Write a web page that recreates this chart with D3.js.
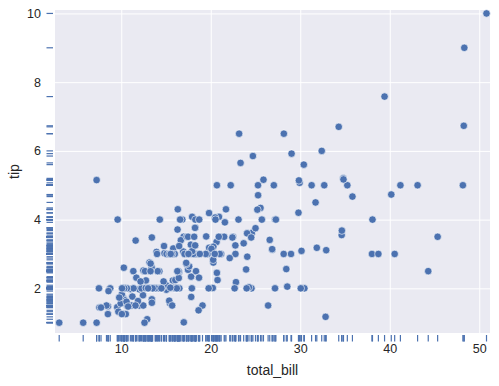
<!DOCTYPE html>
<html><head><meta charset="utf-8">
<script src="https://cdn.jsdelivr.net/npm/d3@7"></script>
<style>html,body{margin:0;padding:0;background:#fff;}svg{display:block;}</style>
</head><body>
<script>
const totalBill = [16.99,10.34,21.01,23.68,24.59,25.29,8.77,26.88,15.04,14.78,10.27,35.26,15.42,18.43,14.83,21.58,10.33,16.29,16.97,20.65,17.92,20.29,15.77,39.42,19.82,17.81,13.37,12.69,21.7,19.65,9.55,18.35,15.06,20.69,17.78,24.06,16.31,16.93,18.69,31.27,16.04,17.46,13.94,9.68,30.4,18.29,22.23,32.4,28.55,18.04,12.54,10.29,34.81,9.94,25.56,19.49,38.01,26.41,11.24,48.27,20.29,13.81,11.02,18.29,17.59,20.08,16.45,3.07,20.23,15.01,12.02,17.07,26.86,25.28,14.73,10.51,17.92,27.2,22.76,17.29,19.44,16.66,10.07,32.68,15.98,34.83,13.03,18.28,24.71,21.16,28.97,22.49,5.75,16.32,22.75,40.17,27.28,12.03,21.01,12.46,11.35,15.38,44.3,22.42,20.92,15.36,20.49,25.21,18.24,14.31,14.0,7.25,38.07,23.95,25.71,17.31,29.93,10.65,12.43,24.08,11.69,13.42,14.26,15.95,12.48,29.8,8.52,14.52,11.38,22.82,19.08,20.27,11.17,12.26,18.26,8.51,10.33,14.15,16.0,13.16,17.47,34.3,41.19,27.05,16.43,8.35,18.64,11.87,9.78,7.51,14.07,13.13,17.26,24.55,19.77,29.85,48.17,25.0,13.39,16.49,21.5,12.66,16.21,13.81,17.51,24.52,20.76,31.71,10.59,10.63,50.81,15.81,7.25,31.85,16.82,32.9,17.89,14.48,9.6,34.63,34.65,23.33,45.35,23.17,40.55,20.69,20.9,30.46,18.15,23.1,15.69,19.81,28.44,15.48,16.58,7.56,10.34,43.11,13.0,13.51,18.71,12.74,13.0,16.4,20.53,16.47,26.59,38.73,24.27,12.76,30.06,25.89,48.33,13.27,28.17,12.9,28.15,11.59,7.74,30.14,12.16,13.42,8.58,15.98,13.42,16.27,10.09,20.45,13.28,22.12,24.01,15.69,11.61,10.77,15.53,10.07,12.6,32.83,35.83,29.03,27.18,22.67,17.82,18.78];
const tip = [1.01,1.66,3.5,3.31,3.61,4.71,2.0,3.12,1.96,3.23,1.71,5.0,1.57,3.0,3.02,3.92,1.67,3.71,3.5,3.35,4.08,2.75,2.23,7.58,3.18,2.34,2.0,2.0,4.3,3.0,1.45,2.5,3.0,2.45,3.27,3.6,2.0,3.07,2.31,5.0,2.24,2.54,3.06,1.32,5.6,3.0,5.0,6.0,2.05,3.0,2.5,2.6,5.2,1.56,4.34,3.51,3.0,1.5,1.76,6.73,3.21,2.0,1.98,3.76,2.64,3.15,2.47,1.0,2.01,2.09,1.97,3.0,3.14,5.0,2.2,1.25,3.08,4.0,3.0,2.71,3.0,3.4,1.83,5.0,2.03,5.17,2.0,4.0,5.85,3.0,3.0,3.5,1.0,4.3,3.25,4.73,4.0,1.5,3.0,1.5,2.5,3.0,2.5,3.48,4.08,1.64,4.06,4.29,3.76,4.0,3.0,1.0,4.0,2.55,4.0,3.5,5.07,1.5,1.8,2.92,2.31,1.68,2.5,2.0,2.52,4.2,1.48,2.0,2.0,2.18,1.5,2.83,1.5,2.0,3.25,1.25,2.0,2.0,2.0,2.75,3.5,6.7,5.0,5.0,2.3,1.5,1.36,1.63,1.73,2.0,2.5,2.0,2.74,2.0,2.0,5.14,5.0,3.75,2.61,2.0,3.5,2.5,2.0,2.0,3.0,3.48,2.24,4.5,1.61,2.0,10.0,3.16,5.15,3.18,4.0,3.11,2.0,2.0,4.0,3.55,3.68,5.65,3.5,6.5,3.0,5.0,3.5,2.0,3.5,4.0,1.5,4.19,2.56,2.02,4.0,1.44,2.0,5.0,2.0,2.0,4.0,2.01,2.0,2.5,4.0,3.23,3.41,3.0,2.03,2.23,2.0,5.16,9.0,2.5,6.5,1.1,3.0,1.5,1.44,3.09,2.2,3.48,1.92,3.0,1.58,2.5,2.0,3.0,2.72,2.88,2.0,3.0,3.39,1.47,3.0,1.25,1.0,1.17,4.67,5.92,2.0,2.0,1.75,3.0];
const xTicks = [10, 20, 30, 40, 50];
const yTicks = [2, 4, 6, 8, 10];
const xLabel = "total_bill";
const yLabel = "tip";

const W = 499, H = 386;
const m = {left: 55, right: 9, top: 10, bottom: 53};
const pw = W - m.left - m.right, ph = H - m.top - m.bottom;
const blue = "#4c72b0";
const font = "'Liberation Sans', Arial, sans-serif";

const svg = d3.select("body").append("svg").attr("width", W).attr("height", H);
const x = d3.scaleLinear().domain([2.6, 51.2]).range([0, pw]);
const y = d3.scaleLinear().domain([0.7, 10.1]).range([ph, 0]);

const g = svg.append("g").attr("transform", `translate(${m.left},${m.top})`);
g.append("rect").attr("width", pw).attr("height", ph).attr("fill", "#eaeaf2");

const xAxis = d3.axisBottom(x).tickValues(xTicks).tickSize(ph).tickPadding(11);
const gx = g.append("g").call(xAxis);
gx.select(".domain").remove();
gx.selectAll(".tick line").attr("stroke", "#fff").attr("stroke-width", 1);
gx.selectAll(".tick text").attr("fill", "#262626").attr("font-size", 12.5).attr("font-family", font);

const yAxis = d3.axisLeft(y).tickValues(yTicks).tickSize(-pw).tickPadding(14);
const gy = g.append("g").call(yAxis);
gy.select(".domain").remove();
gy.selectAll(".tick line").attr("stroke", "#fff").attr("stroke-width", 1);
gy.selectAll(".tick text").attr("fill", "#262626").attr("font-size", 12.5).attr("font-family", font);

const data = totalBill.map((d, i) => ({x: d, y: tip[i]}));

// rugs (outside axes)
g.append("g").selectAll("line").data(data).join("line")
  .attr("x1", d => x(d.x)).attr("x2", d => x(d.x))
  .attr("y1", ph + 2).attr("y2", ph + 8.5)
  .attr("stroke", blue).attr("stroke-width", 1.2);
g.append("g").selectAll("line").data(data).join("line")
  .attr("y1", d => y(d.y)).attr("y2", d => y(d.y))
  .attr("x1", -2).attr("x2", -8.5)
  .attr("stroke", blue).attr("stroke-width", 1.2);

// points
g.append("g").selectAll("circle").data(data).join("circle")
  .attr("cx", d => x(d.x)).attr("cy", d => y(d.y)).attr("r", 3.75)
  .attr("fill", blue).attr("stroke", "#fff").attr("stroke-width", 0.6);

svg.append("text").attr("x", m.left + pw / 2).attr("y", 375)
  .attr("text-anchor", "middle").attr("font-size", 14).attr("font-family", font)
  .attr("fill", "#262626").text(xLabel);
svg.append("text").attr("transform", `translate(19,${m.top + ph / 2}) rotate(-90)`)
  .attr("text-anchor", "middle").attr("font-size", 14).attr("font-family", font)
  .attr("fill", "#262626").text(yLabel);
</script>
</body></html>
